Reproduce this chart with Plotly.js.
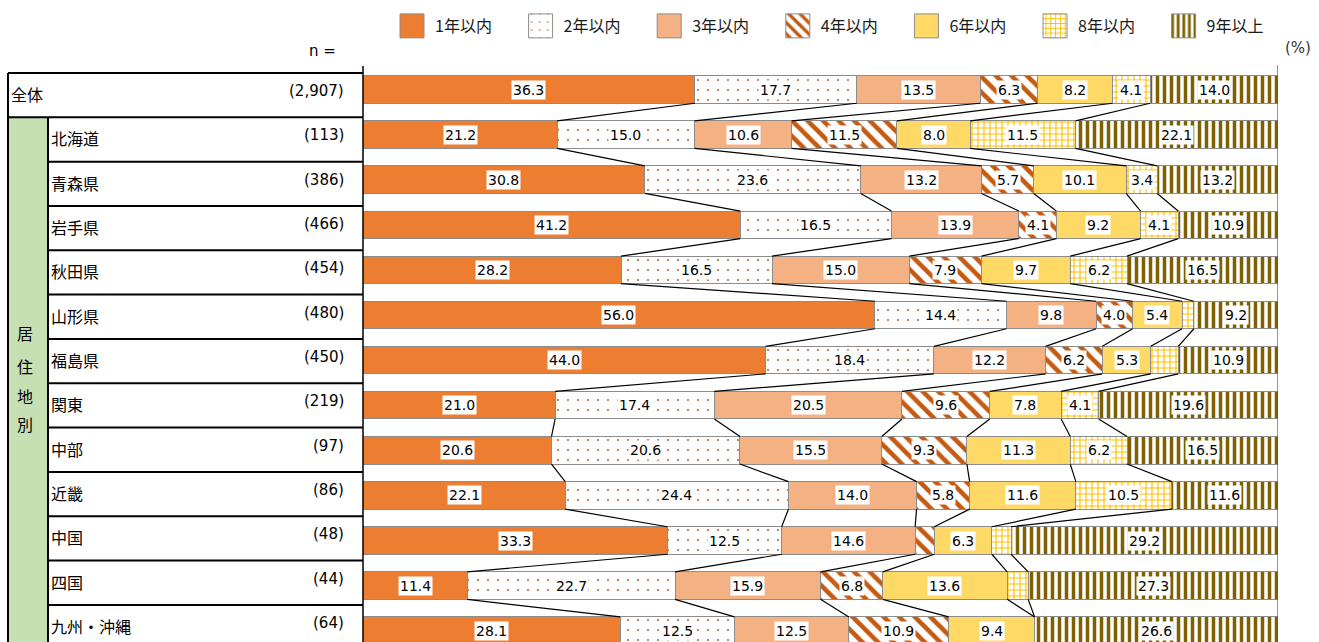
<!DOCTYPE html>
<html><head><meta charset="utf-8">
<script src="https://cdn.plot.ly/plotly-3.0.1.min.js"></script>
<style>body{margin:0;background:#fff;}</style></head>
<body><div id="chart" style="width:1319px;height:642px;"></div>
<script>
// ---- data ----
const regions = ["全体","北海道","青森県","岩手県","秋田県","山形県","福島県","関東","中部","近畿","中国","四国","九州・沖縄"];
const nLabels = ["(2,907)","(113)","(386)","(466)","(454)","(480)","(450)","(219)","(97)","(86)","(48)","(44)","(64)"];
const seriesNames = ["1年以内","2年以内","3年以内","4年以内","6年以内","8年以内","9年以上"];
const within1 = [36.3,21.2,30.8,41.2,28.2,56.0,44.0,21.0,20.6,22.1,33.3,11.4,28.1];
const within2 = [17.7,15.0,23.6,16.5,16.5,14.4,18.4,17.4,20.6,24.4,12.5,22.7,12.5];
const within3 = [13.5,10.6,13.2,13.9,15.0,9.8,12.2,20.5,15.5,14.0,14.6,15.9,12.5];
const within4 = [6.3,11.5,5.7,4.1,7.9,4.0,6.2,9.6,9.3,5.8,2.1,6.8,10.9];
const within6 = [8.2,8.0,10.1,9.2,9.7,5.4,5.3,7.8,11.3,11.6,6.3,13.6,9.4];
const within8 = [4.1,11.5,3.4,4.1,6.2,1.3,3.0,4.1,6.2,10.5,2.1,2.3,0.0];
const over9 = [14.0,22.1,13.2,10.9,16.5,9.2,10.9,19.6,16.5,11.6,29.2,27.3,26.6];
const series = [within1,within2,within3,within4,within6,within8,over9];

// ---- styles ----
const styles = [
  {color:'#ED7D31'},
  {color:'#ffffff', pattern:{shape:'.', fgcolor:'#B8683A', bgcolor:'#ffffff', size:10, solidity:0.035, fillmode:'replace'}},
  {color:'#F4B183'},
  {color:'#ffffff', pattern:{shape:'\\', fgcolor:'#C55A11', bgcolor:'#ffffff', size:11, solidity:0.42, fillmode:'replace'}},
  {color:'#FFD966'},
  {color:'#ffffff', pattern:{shape:'+', fgcolor:'#FFC000', bgcolor:'#ffffff', size:6, solidity:0.35, fillmode:'replace'}},
  {color:'#ffffff', pattern:{shape:'|', fgcolor:'#7F6000', bgcolor:'#ffffff', size:7, solidity:0.5, fillmode:'replace'}}
];

const W = 1319, H = 642, ML = 363, MR = 41, MT = 65, MB = 0;
const PW = W - ML - MR, PH = H - MT - MB;
const px2x = p => (p - ML) / PW;
const px2y = p => 1 - (p - MT) / PH;
const bargap = 0.39;
const half = (1 - bargap) / 2;
const idx = regions.map((_, i) => i);

const traces = [];
series.forEach((vals, k) => {
  const st = styles[k];
  const marker = {color: st.color, line:{color:'#8c8c8c', width:1}};
  if (st.pattern) marker.pattern = st.pattern;
  traces.push({type:'bar', orientation:'h', name:seriesNames[k], x:vals, y:idx,
    marker:marker, hoverinfo:'skip', showlegend:true});
});

// normalized cumulative boundaries
const totals = idx.map(i => series.reduce((s, a) => s + a[i], 0));
const cums = idx.map(i => { let c = 0; return series.map(a => { const st = c; c += a[i]; return [st/totals[i]*100, c/totals[i]*100]; }); });

// connector lines
const cx = [], cy = [];
for (let b = 0; b < series.length - 1; b++) {
  for (let i = 0; i < regions.length - 1; i++) {
    cx.push(cums[i][b][1], cums[i+1][b][1], null);
    cy.push(i + half, i + 1 - half, null);
  }
}
traces.push({type:'scatter', mode:'lines', x:cx, y:cy, line:{color:'#000', width:1.2},
  hoverinfo:'skip', showlegend:false, cliponaxis:true});

const annotations = [];
// value labels
idx.forEach(i => {
  series.forEach((a, k) => {
    const v = a[i];
    if (v >= 3.2) {
      annotations.push({x:(cums[i][k][0]+cums[i][k][1])/2, y:i, xref:'x', yref:'y',
        text:v.toFixed(1), showarrow:false, bgcolor:'#ffffff', borderpad:1,
        font:{family:'DejaVu Sans, sans-serif', size:14, color:'#000'}});
    }
  });
});

// table geometry (px)
const tTop = 73, r1 = 117.3, rowH = 44.33;
const rowTop = i => i === 0 ? tTop : r1 + (i-1)*rowH;
const rowBot = i => r1 + i*rowH;
const shapes = [];
const L = (x0,y0,x1,y1,w,c) => shapes.push({type:'line', xref:'paper', yref:'paper',
  x0:px2x(x0), x1:px2x(x1), y0:px2y(y0), y1:px2y(y1), line:{color:c||'#000', width:w||2}, layer:'above'});
// green column
shapes.push({type:'rect', xref:'paper', yref:'paper', x0:px2x(8), x1:px2x(48), y0:px2y(r1), y1:px2y(H+10),
  fillcolor:'#C6E0B4', line:{width:0}, layer:'below'});
L(8, tTop, ML, tTop);
L(8, r1, ML, r1);
for (let i = 1; i < regions.length; i++) L(48, rowBot(i), ML, rowBot(i));
L(8, tTop, 8, H+10);
L(48, r1, 48, H+10);
L(ML, MT+1, ML, H+10, 1.5);
// right border
shapes.push({type:'line', xref:'x', yref:'paper', x0:100, x1:100, y0:0, y1:1, line:{color:'#595959', width:1.3}, layer:'above'});

const cjk = '"Noto Sans CJK JP", sans-serif';
regions.forEach((r, i) => {
  const cy = (rowTop(i) + rowBot(i)) / 2;
  annotations.push({xref:'paper', yref:'paper', x:px2x(i === 0 ? 9 : 49), y:px2y(cy-1), xanchor:'left', yanchor:'middle',
    text:r, showarrow:false, font:{family:cjk, size:16, color:'#000'}});
  annotations.push({xref:'paper', yref:'paper', x:px2x(346), y:px2y(cy-4), xanchor:'right', yanchor:'middle',
    text:nLabels[i], showarrow:false, font:{family:'DejaVu Sans, sans-serif', size:15, color:'#000'}});
});
const vertical = ["居","住","地","別"];
const vy = [333, 366, 396, 424];
vertical.forEach((c, j) => annotations.push({xref:'paper', yref:'paper', x:px2x(25), y:px2y(vy[j]),
  xanchor:'center', yanchor:'middle', text:c, showarrow:false, font:{family:cjk, size:16, color:'#000'}}));
annotations.push({xref:'paper', yref:'paper', x:px2x(338), y:px2y(51), xanchor:'right', yanchor:'middle',
  text:'n =', showarrow:false, font:{family:'DejaVu Sans, sans-serif', size:15, color:'#000'}});
annotations.push({xref:'paper', yref:'paper', x:px2x(1313), y:px2y(48), xanchor:'right', yanchor:'middle',
  text:'(%)', showarrow:false, font:{family:'DejaVu Sans, sans-serif', size:15, color:'#333'}});

const layout = {
  width:W, height:H, margin:{l:ML, r:MR, t:MT, b:MB, pad:0},
  paper_bgcolor:'#fff', plot_bgcolor:'#fff',
  barmode:'stack', barnorm:'percent', bargap:bargap,
  xaxis:{range:[0,100], showgrid:false, zeroline:false, showticklabels:false, ticks:'', fixedrange:true},
  yaxis:{range:[(H - 89.5)/45.1, -(89.5 - MT)/45.1], showgrid:false, zeroline:false, showticklabels:false,
    ticks:'', showline:false, fixedrange:true},
  showlegend:true,
  legend:{orientation:'h', xref:'container', yref:'container', x:395/W, y:1-9/H, xanchor:'left', yanchor:'top',
    entrywidth:83.6, entrywidthmode:'pixels', traceorder:'normal',
    font:{family:cjk, size:16, color:'#1a1a1a'}, itemclick:false, itemdoubleclick:false},
  shapes:shapes, annotations:annotations, hovermode:false
};

Plotly.newPlot('chart', traces, layout, {displayModeBar:false, staticPlot:true}).then(() => {
  document.querySelectorAll('.legend .legendpoints path').forEach(p => {
    p.setAttribute('d', 'M9,12H-15V-12H9Z');
  });
});
</script>
</body></html>
